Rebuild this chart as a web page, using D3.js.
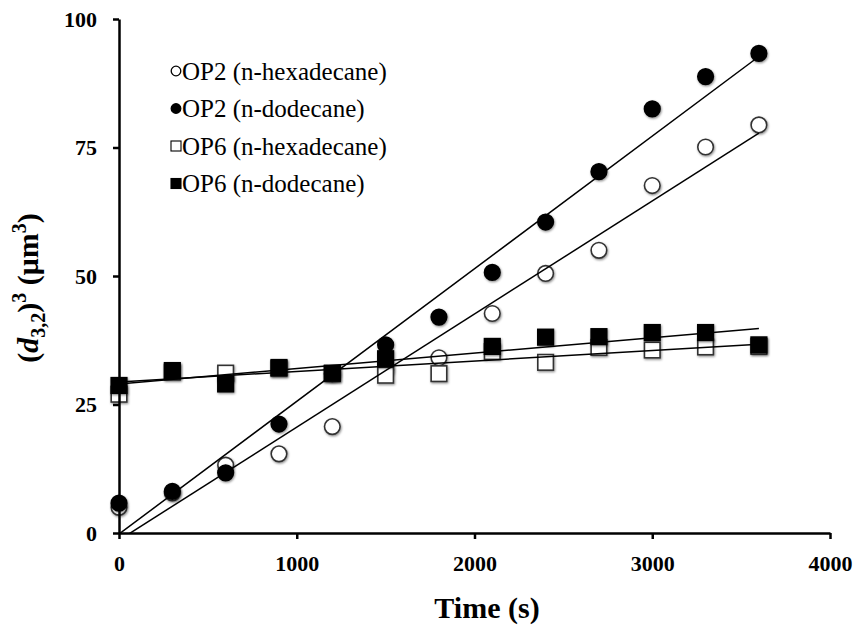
<!DOCTYPE html>
<html>
<head>
<meta charset="utf-8">
<script src="https://cdn.jsdelivr.net/npm/d3@7/dist/d3.min.js"></script>
<style>
  html, body { margin: 0; padding: 0; background: #fff; }
  svg { display: block; }
  text { font-family: "Liberation Serif", "Times New Roman", serif; }
</style>
</head>
<body>
<svg id="chart" width="857" height="636"></svg>
<script>
// ---- data ----
const times = [0, 300, 600, 900, 1200, 1500, 1800, 2100, 2400, 2700, 3000, 3300, 3600];
const op2Hexadecane = [5.0, 7.8, 13.2, 15.4, 20.7, 31.7, 34.1, 42.7, 50.5, 55.0, 67.6, 75.1, 79.4];
const op2Dodecane   = [5.8, 8.1, 11.7, 21.2, 31.0, 36.6, 42.0, 50.7, 60.5, 70.3, 82.5, 88.8, 93.3];
const op6Hexadecane = [27.0, 31.3, 31.1, 32.0, 31.0, 30.7, 31.0, 35.3, 33.2, 36.1, 35.6, 36.2, 36.3];
const op6Dodecane   = [28.7, 31.6, 29.0, 32.2, 31.1, 33.9, null, 36.3, 38.1, 38.2, 39.0, 39.0, 36.6];
// linear trend lines: value at t = trendTimes[0] and trendTimes[1]
const trendTimes = [0, 3600];
const trendOp2Hexadecane = [-1.4, 77.8];
const trendOp2Dodecane   = [-0.2, 92.7];
const trendOp6Hexadecane = [29.4, 36.7];
const trendOp6Dodecane   = [29.0, 39.8];
const seriesNames = ["OP2 (n-hexadecane)", "OP2 (n-dodecane)", "OP6 (n-hexadecane)", "OP6 (n-dodecane)"];
const xTicks = [0, 1000, 2000, 3000, 4000];
const yTicks = [0, 25, 50, 75, 100];

const series = [
  { name: seriesNames[0], values: op2Hexadecane, trend: trendOp2Hexadecane, shape: "circle", filled: false },
  { name: seriesNames[1], values: op2Dodecane,   trend: trendOp2Dodecane,   shape: "circle", filled: true },
  { name: seriesNames[2], values: op6Hexadecane, trend: trendOp6Hexadecane, shape: "square", filled: false },
  { name: seriesNames[3], values: op6Dodecane,   trend: trendOp6Dodecane,   shape: "square", filled: true }
];

const svg = d3.select("#chart");
const x = d3.scaleLinear().domain([0, 4000]).range([119, 830]);
const y = d3.scaleLinear().domain([0, 100]).range([533, 19]);

const defs = svg.append("defs");
const f = defs.append("filter").attr("id", "shadow").attr("x", "-50%").attr("y", "-50%").attr("width", "200%").attr("height", "200%");
f.append("feDropShadow").attr("dx", 0.8).attr("dy", 1.2).attr("stdDeviation", 1.2).attr("flood-color", "#000").attr("flood-opacity", 0.45);
defs.append("clipPath").attr("id", "plotclip").append("rect")
  .attr("x", x(0)).attr("y", y(100)).attr("width", x(4000) - x(0)).attr("height", y(0) - y(100));

// markers
const markerG = svg.append("g");
series.forEach(s => {
  const pts = times.map((t, i) => ({ t, v: s.values[i] })).filter(d => d.v != null);
  const g = markerG.append("g").attr("filter", "url(#shadow)");
  if (s.shape === "circle") {
    g.selectAll("circle").data(pts).join("circle")
      .attr("cx", d => x(d.t)).attr("cy", d => y(d.v)).attr("r", 7.8)
      .attr("fill", s.filled ? "#000" : "#fff")
      .attr("stroke", s.filled ? "#000" : "#333").attr("stroke-width", 1.6);
  } else {
    const h = 7.8;
    g.selectAll("rect").data(pts).join("rect")
      .attr("x", d => x(d.t) - h).attr("y", d => y(d.v) - h).attr("width", 2 * h).attr("height", 2 * h)
      .attr("fill", s.filled ? "#000" : "#fff")
      .attr("stroke", s.filled ? "#000" : "#333").attr("stroke-width", 1.6);
  }
});

// trend lines
const lineG = svg.append("g").attr("clip-path", "url(#plotclip)");
const line = d3.line().x(d => x(d[0])).y(d => y(d[1]));
series.forEach(s => {
  lineG.append("path")
    .attr("d", line(trendTimes.map((t, i) => [t, s.trend[i]])))
    .attr("fill", "none").attr("stroke", "#000").attr("stroke-width", 1.5);
});

// axes
const xAxis = svg.append("g").attr("transform", `translate(0,${y(0)})`)
  .call(d3.axisBottom(x).tickValues(xTicks).tickSize(6).tickSizeOuter(0).tickFormat(d3.format("d")));
xAxis.selectAll("text").attr("y", 38).attr("dy", 0)
  .attr("font-size", 22).attr("font-weight", "bold").attr("font-family", "Liberation Serif").attr("fill", "#000");

const yAxis = svg.append("g").attr("transform", `translate(${x(0)},0)`)
  .call(d3.axisLeft(y).tickValues(yTicks).tickSize(6).tickSizeOuter(0).tickFormat(d3.format("d")));
yAxis.selectAll("text").attr("x", -22).attr("dy", "0.34em")
  .attr("font-size", 22).attr("font-weight", "bold").attr("font-family", "Liberation Serif").attr("fill", "#000");

[xAxis, yAxis].forEach(a => {
  a.select(".domain").attr("stroke", "#000").attr("stroke-width", 2.5);
  a.selectAll(".tick line").attr("stroke", "#000").attr("stroke-width", 2.5);
});

// axis titles
svg.append("text").attr("x", 487).attr("y", 618).attr("text-anchor", "middle")
  .attr("font-size", 30).attr("font-weight", "bold").text("Time (s)");

const yl = svg.append("text").attr("transform", "translate(38,288) rotate(-90)")
  .attr("text-anchor", "middle").attr("font-size", 30).attr("font-weight", "bold");
yl.append("tspan").text("(");
yl.append("tspan").attr("font-style", "italic").text("d");
yl.append("tspan").attr("font-size", 20).attr("dy", 7).text("3,2");
yl.append("tspan").attr("dy", -7).text(")");
yl.append("tspan").attr("font-size", 20).attr("dy", -12).text("3");
yl.append("tspan").attr("dy", 12).text(" (μm");
yl.append("tspan").attr("font-size", 20).attr("dy", -12).text("3");
yl.append("tspan").attr("dy", 12).text(")");

// legend
const legend = svg.append("g");
series.forEach((s, i) => {
  const cy = 71 + i * 37.5;
  const cx = 176;
  if (s.shape === "circle") {
    legend.append("circle").attr("cx", cx).attr("cy", cy).attr("r", 4.8)
      .attr("fill", s.filled ? "#000" : "#fff").attr("stroke", "#000").attr("stroke-width", 1.3);
  } else {
    legend.append("rect").attr("x", cx - 5).attr("y", cy - 5).attr("width", 10).attr("height", 10)
      .attr("fill", s.filled ? "#000" : "#fff").attr("stroke", "#000").attr("stroke-width", 1.1);
  }
  legend.append("text").attr("x", 182).attr("y", cy + 8.5)
    .attr("font-size", 25).attr("fill", "#000").text(s.name);
});
</script>
</body>
</html>
